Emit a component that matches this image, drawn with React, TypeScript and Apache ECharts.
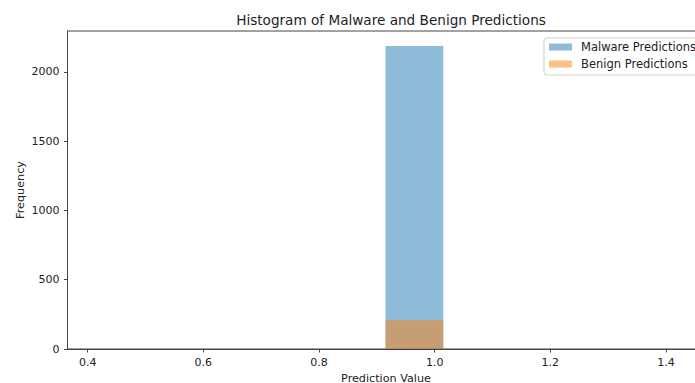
import React, { useEffect, useRef } from "react";
import * as echarts from "echarts";

const binEdges = [0.415, 0.515, 0.615, 0.715, 0.815, 0.915, 1.015, 1.115, 1.215, 1.315, 1.415];
const malwareCounts = [0, 0, 0, 0, 0, 2185, 0, 0, 0, 0];
const benignCounts = [0, 0, 0, 0, 0, 208, 0, 0, 0, 0];
const xTicks = [0.4, 0.6, 0.8, 1.0, 1.2, 1.4];
const yTicks = [0, 500, 1000, 1500, 2000];
const seriesNames = ["Malware Predictions", "Benign Predictions"];

const FONT = "DejaVu Sans";

function toData(counts: number[]) {
  return counts.map((c, i) => [binEdges[i], binEdges[i + 1], c]);
}

export default function App() {
  const ref = useRef<HTMLDivElement>(null);
  useEffect(() => {
    if (!ref.current) return;
    const chart = echarts.init(ref.current, undefined, { renderer: "svg" });
    const renderItem = (params: any, api: any) => {
      const x0 = api.value(0);
      const x1 = api.value(1);
      const h = api.value(2);
      if (!h) return null;
      const p0 = api.coord([x0, h]);
      const p1 = api.coord([x1, 0]);
      return {
        type: "rect",
        shape: { x: p0[0], y: p0[1], width: p1[0] - p0[0], height: p1[1] - p0[1] },
        style: api.style(),
      };
    };
    chart.setOption({
      animation: false,
      textStyle: { fontFamily: FONT },
      title: {
        text: "Histogram of Malware and Benign Predictions",
        left: 386,
        top: 8,
        textAlign: "center",
        textStyle: { fontFamily: FONT, fontSize: 13.6, fontWeight: "normal", color: "#222" },
      },
      legend: {
        orient: "vertical",
        left: 544,
        top: 38,
        itemWidth: 23,
        itemHeight: 7,
        itemGap: 3,
        padding: [2, 10, 4, 5],
        borderColor: "#d0d0d0",
        borderWidth: 1,
        borderRadius: 3,
        backgroundColor: "rgba(255,255,255,0.8)",
        icon: "rect",
        textStyle: { fontFamily: FONT, fontSize: 11.5, color: "#222", padding: [0, 0, 0, 4], lineHeight: 14 },
        data: seriesNames,
      },
      grid: {
        left: 67.5,
        top: 31,
        right: 16.5,
        bottom: 34,
        show: true,
        borderColor: "#444",
        borderWidth: 1,
        backgroundColor: "transparent",
      },
      xAxis: {
        type: "value",
        min: 0.365,
        max: 1.465,
        splitLine: { show: false },
        axisLine: { show: true, onZero: false, lineStyle: { color: "#444", width: 1 } },
        axisTick: { show: true, length: 3.5, lineStyle: { color: "#444" }, customValues: xTicks },
        axisLabel: {
          customValues: xTicks,
          margin: 8,
          fontFamily: FONT,
          fontSize: 11,
          color: "#222",
          formatter: (v: number) => v.toFixed(1),
        },
      },
      yAxis: {
        type: "value",
        min: 0,
        max: 2294,
        splitLine: { show: false },
        axisLine: { show: true, lineStyle: { color: "#444", width: 1 } },
        axisTick: { show: true, length: 3.5, lineStyle: { color: "#444" }, customValues: yTicks },
        axisLabel: {
          customValues: yTicks,
          margin: 8,
          fontFamily: FONT,
          fontSize: 11,
          color: "#222",
          formatter: (v: number) => String(v),
        },
      },
      graphic: [
        {
          type: "text",
          x: 386,
          y: 378,
          style: {
            text: "Prediction Value",
            fontFamily: FONT,
            fontSize: 11.2,
            fill: "#222",
            textAlign: "center",
            textVerticalAlign: "middle",
          },
        },
        {
          type: "text",
          x: 20,
          y: 190,
          rotation: Math.PI / 2,
          style: {
            text: "Frequency",
            fontFamily: FONT,
            fontSize: 11.2,
            fill: "#222",
            textAlign: "center",
            textVerticalAlign: "middle",
          },
        },
      ],
      series: [
        {
          name: seriesNames[0],
          type: "custom",
          renderItem,
          encode: { x: [0, 1], y: 2 },
          itemStyle: { color: "rgba(31,119,180,0.5)" },
          data: toData(malwareCounts),
        },
        {
          name: seriesNames[1],
          type: "custom",
          renderItem,
          encode: { x: [0, 1], y: 2 },
          itemStyle: { color: "rgba(255,127,14,0.5)" },
          data: toData(benignCounts),
        },
      ],
    });
    return () => chart.dispose();
  }, []);
  return (
    <div
      style={{
        position: "absolute",
        left: 0,
        top: 0,
        width: 695,
        height: 383,
        overflow: "hidden",
        background: "#fff",
      }}
    >
      <div ref={ref} style={{ width: 720, height: 383 }} />
    </div>
  );
}
